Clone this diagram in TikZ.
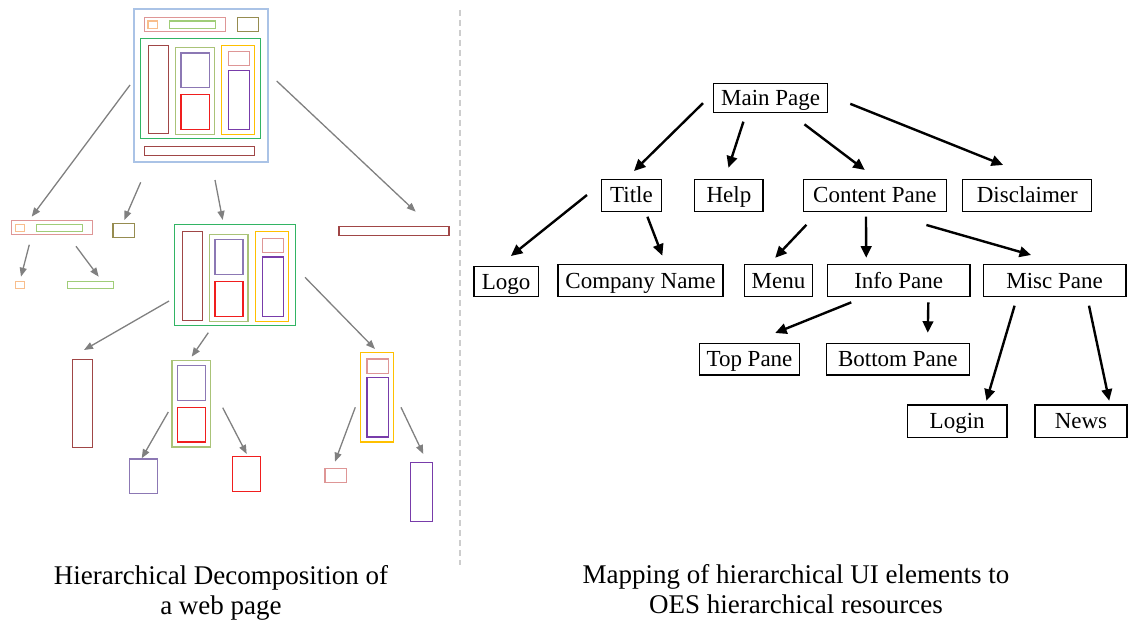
\documentclass[tikz,border=0pt]{standalone}
\usepackage{fontspec}
\setmainfont{Liberation Serif}
\usetikzlibrary{arrows.meta,calc}

\definecolor{pageblue}{RGB}{170,195,230}
\definecolor{rosepink}{RGB}{222,150,150}
\definecolor{peach}{RGB}{248,190,140}
\definecolor{limegreen}{RGB}{160,205,120}
\definecolor{olivebox}{RGB}{150,140,80}
\definecolor{contgreen}{RGB}{50,180,100}
\definecolor{darkredbox}{RGB}{160,70,70}
\definecolor{sage}{RGB}{170,195,120}
\definecolor{lavender}{RGB}{140,120,180}
\definecolor{redbox}{RGB}{240,30,30}
\definecolor{amber}{RGB}{255,192,0}
\definecolor{violetbox}{RGB}{120,60,170}
\definecolor{arrowgray}{RGB}{128,128,128}
\definecolor{divgray}{RGB}{205,205,205}

% wireframe box: name, x1, y1, x2, y2, colour
\newcommand\wirebox[6]{%
  \node[wbox, draw=#6, minimum width={(#4)-(#2)}, minimum height={(#5)-(#3)}]
    (#1) at ({((#2)+(#4))/2},{((#3)+(#5))/2}) {};}

\begin{document}
\begin{tikzpicture}[x=1pt,y=-1pt,
  wbox/.style={line width=1.2pt, inner sep=0pt, outer sep=0pt},
  garr/.style={draw=arrowgray, line width=1.3pt, -{Triangle[length=9pt,width=7pt]}},
  tbox/.style={draw, line width=1.2pt, inner sep=0pt, outer sep=0pt,
    font=\fontsize{23}{23}\selectfont, text height=15pt, text depth=0pt},
  barr/.style={line width=2.4pt, -{Triangle[length=11.5pt,width=10.5pt]}},
  caption/.style={align=center, inner sep=0pt, font=\fontsize{27}{30}\selectfont},
  divider/.style={draw=divgray, line width=1.2pt, dash pattern=on 6pt off 4pt}]
\useasboundingbox (0,0) rectangle (1128,623);

% ---------- left: the web page and its decomposition ----------
% whole page
\wirebox{wpage}{134}{9}{268}{162}{pageblue}
\wirebox{wphdr}{144.3}{17.3}{225.3}{31.3}{rosepink}
\wirebox{wplogo}{148}{21}{157.3}{28.3}{peach}
\wirebox{wpname}{169.3}{21}{215.3}{28.3}{limegreen}
\wirebox{wphelp}{237.3}{17.3}{258.3}{31.3}{olivebox}
\wirebox{wpcont}{140.7}{38.3}{260.3}{138.7}{contgreen}
\wirebox{wpmenu}{148.3}{45.3}{168.3}{133.3}{darkredbox}
\wirebox{wpinfo}{175.3}{47.3}{214.3}{134.3}{sage}
\wirebox{wptop}{181}{53}{209.3}{87.7}{lavender}
\wirebox{wpbot}{181}{94.7}{209.3}{129.3}{redbox}
\wirebox{wpmisc}{221.3}{45.3}{254.7}{134.3}{amber}
\wirebox{wplogin}{228.3}{51.7}{249.3}{65.7}{rosepink}
\wirebox{wpnews}{228.3}{70.3}{249.3}{129.3}{violetbox}
\wirebox{wpdisc}{144.7}{146.7}{254.7}{155.3}{darkredbox}

% second level
\wirebox{whdr}{11.7}{220.7}{92.3}{234.7}{rosepink}
\wirebox{whdrlogo}{15.3}{224.3}{24.7}{231.7}{peach}
\wirebox{whdrname}{36.3}{224.3}{82.3}{231.7}{limegreen}
\wirebox{whelp}{113}{223.3}{134.3}{237.3}{olivebox}
\wirebox{wcont}{174.3}{224.7}{295.3}{325.3}{contgreen}
\wirebox{wcmenu}{182.3}{231.3}{202.3}{320.3}{darkredbox}
\wirebox{wcinfo}{209.3}{234.3}{248}{321.7}{sage}
\wirebox{wctop}{215}{239.7}{243}{274.7}{lavender}
\wirebox{wcbot}{215}{281.3}{243}{316.3}{redbox}
\wirebox{wcmisc}{255.3}{231.3}{288.7}{321.7}{amber}
\wirebox{wclogin}{262.3}{238.3}{283.7}{252.3}{rosepink}
\wirebox{wcnews}{262.3}{257}{283.7}{316.3}{violetbox}
\wirebox{wdisc}{339}{226.3}{449}{235.3}{darkredbox}

% third level
\wirebox{wlogo}{15.3}{281.3}{24.7}{288.7}{peach}
\wirebox{wname}{67.7}{281.3}{113.7}{288.7}{limegreen}
\wirebox{wmenu}{72.3}{359.3}{92.3}{447.7}{darkredbox}
\wirebox{winfo}{172}{360.3}{210.7}{447}{sage}
\wirebox{witop}{177.7}{365.7}{205.7}{400.3}{lavender}
\wirebox{wibot}{177.7}{407.3}{205.7}{442}{redbox}
\wirebox{wmisc}{360.3}{352.3}{393.3}{442}{amber}
\wirebox{wmlogin}{367}{359}{388.3}{373.3}{rosepink}
\wirebox{wmnews}{367}{377.7}{388.3}{437}{violetbox}

% fourth level
\wirebox{wtop}{129.7}{459}{157.3}{493.7}{lavender}
\wirebox{wbot}{232.3}{456.7}{260.3}{491.7}{redbox}
\wirebox{wlogin}{325}{468.3}{346.7}{482.3}{rosepink}
\wirebox{wnews}{410.7}{462.3}{432.3}{521.7}{violetbox}

% decomposition arrows
\draw[garr] ($(wpage)+(-71,-0.5)$) -- ($(whdr)+(-20.3,-11)$);
\draw[garr] ($(wpage)+(-60.3,96.8)$) -- ($(whelp)+(0.65,-10.3)$);
\draw[garr] ($(wpage)+(14,94.5)$) -- ($(wcont)+(-12.1,-55)$);
\draw[garr] ($(wpage)+(75.7,-4.5)$) -- ($(wdisc)+(21.7,-19.1)$);
\draw[garr] ($(whdr)+(-22.7,17)$) -- ($(wlogo)+(1,-8.3)$);
\draw[garr] ($(whdr)+(24,18.6)$) -- ($(wname)+(8,-8.3)$);
\draw[garr] ($(wcont)+(-65.8,26)$) -- ($(wmenu)+(1.7,-53.5)$);
\draw[garr] ($(wcont)+(-26.5,57.7)$) -- ($(winfo)+(0.35,-46.95)$);
\draw[garr] ($(wcont)+(70.2,2.3)$) -- ($(wmisc)+(-1.8,-48.15)$);
\draw[garr] ($(winfo)+(-23.05,8.35)$) -- ($(wtop)+(-1.8,-18.05)$);
\draw[garr] ($(winfo)+(31.35,4.05)$) -- ($(wbot)+(0.4,-20.2)$);
\draw[garr] ($(wmisc)+(-21.5,10.15)$) -- ($(wlogin)+(-0.85,-13.6)$);
\draw[garr] ($(wmisc)+(24.2,10.15)$) -- ($(wnews)+(1.8,-38)$);

% separator
\draw[divider] (460,10) -- (460,565);

% ---------- right: resource hierarchy ----------
\node[tbox, minimum width=114.2pt, minimum height=29pt] (rmain) at (770.6,97.8) {Main Page};
\node[tbox, minimum width=60pt, minimum height=32pt] (rtitle) at (631.5,195.5) {Title};
\node[tbox, minimum width=68.2pt, minimum height=32pt] (rhelp) at (728.9,195.5) {Help};
\node[tbox, minimum width=142.8pt, minimum height=32pt] (rcont) at (874.8,195.5) {Content Pane};
\node[tbox, minimum width=129.1pt, minimum height=32pt] (rdisc) at (1027.3,195.5) {Disclaimer};
\node[tbox, minimum width=64.4pt, minimum height=30pt] (rlogo) at (506.2,281.7) {Logo};
\node[tbox, minimum width=164.9pt, minimum height=31.6pt] (rcomp) at (640.5,280.5) {Company Name};
\node[tbox, minimum width=68.6pt, minimum height=31.6pt] (rmenu) at (778.5,280.5) {Menu};
\node[tbox, minimum width=142.7pt, minimum height=31.6pt] (rinfo) at (898.7,280.5) {Info Pane};
\node[tbox, minimum width=142.8pt, minimum height=31.6pt] (rmisc) at (1054.6,280.5) {Misc Pane};
\node[tbox, minimum width=100.1pt, minimum height=31.7pt] (rtop) at (749.5,359.2) {Top Pane};
\node[tbox, minimum width=142.8pt, minimum height=31.7pt] (rbot) at (897.8,359.2) {Bottom Pane};
\node[tbox, minimum width=99.6pt, minimum height=32.3pt] (rlogin) at (957.2,421.2) {Login};
\node[tbox, minimum width=92pt, minimum height=32.3pt] (rnews) at (1081,421.2) {News};

\draw[barr, shorten <=14.7pt, shorten >=12.1pt] (rmain.175) -- (rtitle.111);
\draw[barr, shorten <=9.9pt, shorten >=12.4pt] (rmain.211) -- (rhelp.105);
\draw[barr, shorten <=20pt, shorten >=15.8pt] (rmain.321) -- (rcont.81);
\draw[barr, shorten <=24.3pt, shorten >=39.1pt] (rmain.3) -- (rdisc.53);
\draw[barr, shorten <=18.6pt, shorten >=17.1pt] (rtitle.158) -- (rlogo.120);
\draw[barr, shorten <=5.6pt, shorten >=9.7pt] (rtitle.311) -- (rcomp.32);
\draw[barr, shorten <=18.3pt, shorten >=9.5pt] (rcont.196) -- (rmenu.122);
\draw[barr, shorten <=5.2pt, shorten >=7pt] (rcont.241) -- (rinfo.154);
\draw[barr, shorten <=48.9pt, shorten >=35.2pt] (rcont.286) -- (rmisc.57);
\draw[barr, shorten <=16.2pt, shorten >=27.7pt] (rinfo.206) -- (rtop.north);
\draw[barr, shorten <=6pt, shorten >=10.6pt] (rinfo.332) -- (rbot.28);
\draw[barr, shorten <=9.8pt, shorten >=4.5pt] (rmisc.203) -- (rlogin.30);
\draw[barr, shorten <=9.6pt, shorten >=4.4pt] (rmisc.334) -- (rnews.29);

% ---------- captions ----------
\node[caption] (capleft) at (221,593) {Hierarchical Decomposition of\\a web page};
\node[caption] (capright) at (796,589) {Mapping of hierarchical UI elements to\\OES hierarchical resources};
\end{tikzpicture}
\end{document}
